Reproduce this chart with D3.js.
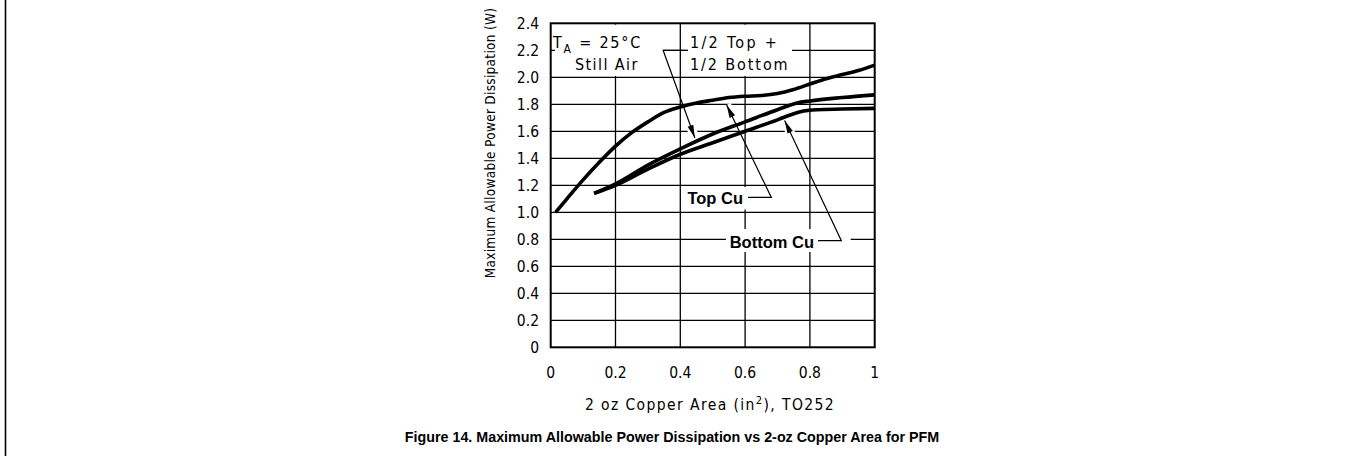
<!DOCTYPE html>
<html>
<head>
<meta charset="utf-8">
<script src="https://cdn.jsdelivr.net/npm/d3@7"></script>
<style>
  body { margin: 0; background: #fff; }
  svg { display: block; }
</style>
</head>
<body>
<script>
// Copper area (in^2) and allowable power (W)
var topCuX = [0.015, 0.05, 0.1, 0.15, 0.2, 0.25, 0.3, 0.35, 0.4, 0.45, 0.5, 0.55, 0.6, 0.65, 0.7, 0.75, 0.8, 0.85, 0.9, 0.95, 1.0];
var topCuY = [1.0, 1.1, 1.24, 1.37, 1.49, 1.59, 1.67, 1.74, 1.78, 1.81, 1.83, 1.85, 1.86, 1.865, 1.88, 1.91, 1.95, 1.99, 2.02, 2.05, 2.09];

var halfX = [0.134, 0.2, 0.3, 0.4, 0.5, 0.6, 0.7, 0.76, 0.8, 0.9, 1.0];
var halfY = [1.14, 1.21, 1.35, 1.47, 1.58, 1.67, 1.76, 1.81, 1.825, 1.85, 1.87];

var bottomCuX = [0.134, 0.2, 0.3, 0.4, 0.5, 0.6, 0.7, 0.75, 0.78, 0.82, 0.9, 1.0];
var bottomCuY = [1.14, 1.2, 1.32, 1.43, 1.515, 1.6, 1.685, 1.73, 1.75, 1.76, 1.765, 1.77];

var xTicks = [0, 0.2, 0.4, 0.6, 0.8, 1];
var xTickLabels = ["0", "0.2", "0.4", "0.6", "0.8", "1"];
var yTicks = [0, 0.2, 0.4, 0.6, 0.8, 1.0, 1.2, 1.4, 1.6, 1.8, 2.0, 2.2, 2.4];
var yTickLabels = ["0", "0.2", "0.4", "0.6", "0.8", "1.0", "1.2", "1.4", "1.6", "1.8", "2.0", "2.2", "2.4"];

var drawFont = "'DejaVu Sans Condensed', 'DejaVu Sans', sans-serif";

var svg = d3.select("body")
  .append("svg")
    .attr("width", 1346)
    .attr("height", 461);

var x = d3.scaleLinear().domain([0, 1]).range([550.7, 874.7]);
var y = d3.scaleLinear().domain([0, 2.4]).range([347.3, 23.3]);

// page margin rule on the left
svg.append("line")
  .attr("x1", 5.5).attr("x2", 5.5)
  .attr("y1", 0).attr("y2", 456)
  .attr("stroke", "#000").attr("stroke-width", 1.6);

// grid
var grid = svg.append("g");
grid.selectAll(".gx")
  .data(xTicks.slice(1, -1))
  .enter().append("line")
    .attr("x1", function (d) { return x(d); })
    .attr("x2", function (d) { return x(d); })
    .attr("y1", y(0)).attr("y2", y(2.4))
    .attr("stroke", "#000").attr("stroke-width", 1.3);
grid.selectAll(".gy")
  .data(yTicks.slice(1, -1))
  .enter().append("line")
    .attr("x1", x(0)).attr("x2", x(1))
    .attr("y1", function (d) { return y(d); })
    .attr("y2", function (d) { return y(d); })
    .attr("stroke", "#000").attr("stroke-width", 1.3);

// white boxes behind the labels
var boxes = [
  { x0: 0.013, x1: 0.347, y0: 2.39, y1: 2.01 },
  { x0: 0.424, x1: 0.745, y0: 2.39, y1: 2.01 },
  { x0: 0.405, x1: 0.609, y0: 1.187, y1: 1.02 },
  { x0: 0.541, x1: 0.926, y0: 0.876, y1: 0.706 }
];
svg.selectAll(".box")
  .data(boxes)
  .enter().append("rect")
    .attr("x", function (d) { return x(d.x0); })
    .attr("y", function (d) { return y(d.y0); })
    .attr("width", function (d) { return x(d.x1) - x(d.x0); })
    .attr("height", function (d) { return y(d.y1) - y(d.y0); })
    .attr("fill", "#fff");

// frame
svg.append("rect")
  .attr("x", x(0)).attr("y", y(2.4))
  .attr("width", x(1) - x(0)).attr("height", y(0) - y(2.4))
  .attr("fill", "none").attr("stroke", "#000").attr("stroke-width", 2);

// leader arrows (data units)
var arrows = [
  [[0.419, 2.2], [0.347, 2.2], [0.445, 1.55]],
  [[0.609, 1.11], [0.681, 1.11], [0.543, 1.795]],
  [[0.825, 0.79], [0.897, 0.79], [0.722, 1.68]]
];

// white halo near each arrow tip
arrows.forEach(function (a) {
  var p = [x(a[2][0]), y(a[2][1])], q = [x(a[1][0]), y(a[1][1])];
  var len = Math.hypot(q[0] - p[0], q[1] - p[1]);
  var t = 22 / len;
  svg.append("line")
    .attr("x1", p[0]).attr("y1", p[1])
    .attr("x2", p[0] + (q[0] - p[0]) * t).attr("y2", p[1] + (q[1] - p[1]) * t)
    .attr("stroke", "#fff").attr("stroke-width", 9);
});

// curves
var line = d3.line()
  .x(function (d) { return x(d[0]); })
  .y(function (d) { return y(d[1]); })
  .curve(d3.curveMonotoneX);

[[topCuX, topCuY], [halfX, halfY], [bottomCuX, bottomCuY]].forEach(function (s) {
  svg.append("path")
    .datum(d3.zip(s[0], s[1]))
    .attr("d", line)
    .attr("fill", "none")
    .attr("stroke", "#000")
    .attr("stroke-width", 3.6)
    .attr("stroke-linejoin", "round");
});

arrows.forEach(function (a) {
  svg.append("path")
    .attr("d", d3.line()(a.map(function (p) { return [x(p[0]), y(p[1])]; })))
    .attr("fill", "none").attr("stroke", "#000").attr("stroke-width", 1.2);
  var tip = [x(a[2][0]), y(a[2][1])], from = [x(a[1][0]), y(a[1][1])];
  var ang = Math.atan2(tip[1] - from[1], tip[0] - from[0]);
  var L = 13, W = 3;
  var bx = tip[0] - L * Math.cos(ang), by = tip[1] - L * Math.sin(ang);
  svg.append("polygon")
    .attr("points", [
      tip,
      [bx + W * Math.sin(ang), by - W * Math.cos(ang)],
      [bx - W * Math.sin(ang), by + W * Math.cos(ang)]
    ].map(function (p) { return p.join(","); }).join(" "))
    .attr("fill", "#000");
});

// tick labels
svg.selectAll(".xl")
  .data(xTicks)
  .enter().append("text")
    .attr("x", function (d) { return x(d); })
    .attr("y", 377.5)
    .attr("text-anchor", "middle")
    .style("font-family", drawFont).style("font-size", "15.5px")
    .text(function (d, i) { return xTickLabels[i]; });

svg.selectAll(".yl")
  .data(yTicks)
  .enter().append("text")
    .attr("x", 539)
    .attr("y", function (d) { return y(d) + 5.8; })
    .attr("text-anchor", "end")
    .style("font-family", drawFont).style("font-size", "15.5px")
    .text(function (d, i) { return yTickLabels[i]; });

// axis titles
svg.append("text")
  .attr("transform", "translate(495,143) rotate(-90)")
  .attr("text-anchor", "middle")
  .style("font-family", drawFont).style("font-size", "13.5px")
  .style("letter-spacing", "0.3px")
  .text("Maximum Allowable Power Dissipation (W)");

var xt = svg.append("text")
  .attr("x", 710).attr("y", 410)
  .attr("text-anchor", "middle")
  .style("font-family", drawFont).style("font-size", "15.5px")
  .style("letter-spacing", "1.4px");
xt.append("tspan").text("2 oz Copper Area (in");
xt.append("tspan").attr("dy", -6).style("font-size", "11px").text("2");
xt.append("tspan").attr("dy", 6).text("), TO252");

// in-plot labels
var ta = svg.append("text")
  .attr("x", 553).attr("y", 48)
  .style("font-family", drawFont).style("font-size", "16px")
  .style("letter-spacing", "1.8px");
ta.append("tspan").text("T");
ta.append("tspan").attr("dy", 5).style("font-size", "12px").text("A");
ta.append("tspan").attr("dy", -5).text(" = 25°C");

svg.append("text")
  .attr("x", 575).attr("y", 70)
  .style("font-family", drawFont).style("font-size", "16px")
  .style("letter-spacing", "1.4px")
  .text("Still Air");

svg.append("text")
  .attr("x", 690).attr("y", 48)
  .style("font-family", drawFont).style("font-size", "16px")
  .style("letter-spacing", "2.3px")
  .text("1/2 Top +");
svg.append("text")
  .attr("x", 690).attr("y", 70)
  .style("font-family", drawFont).style("font-size", "16px")
  .style("letter-spacing", "1.9px")
  .text("1/2 Bottom");

svg.append("text")
  .attr("x", 743).attr("y", 204)
  .attr("text-anchor", "end")
  .style("font-family", "'Liberation Sans', Arial, sans-serif")
  .style("font-size", "16.5px").style("font-weight", "bold")
  .text("Top Cu");

svg.append("text")
  .attr("x", 814).attr("y", 247.5)
  .attr("text-anchor", "end")
  .style("font-family", "'Liberation Sans', Arial, sans-serif")
  .style("font-size", "16.5px").style("font-weight", "bold")
  .text("Bottom Cu");

// caption
svg.append("text")
  .attr("x", 672).attr("y", 442)
  .attr("text-anchor", "middle")
  .style("font-family", "'Liberation Sans', Arial, sans-serif")
  .style("font-size", "14.3px").style("font-weight", "bold")
  .text("Figure 14. Maximum Allowable Power Dissipation vs 2-oz Copper Area for PFM");
</script>
</body>
</html>
